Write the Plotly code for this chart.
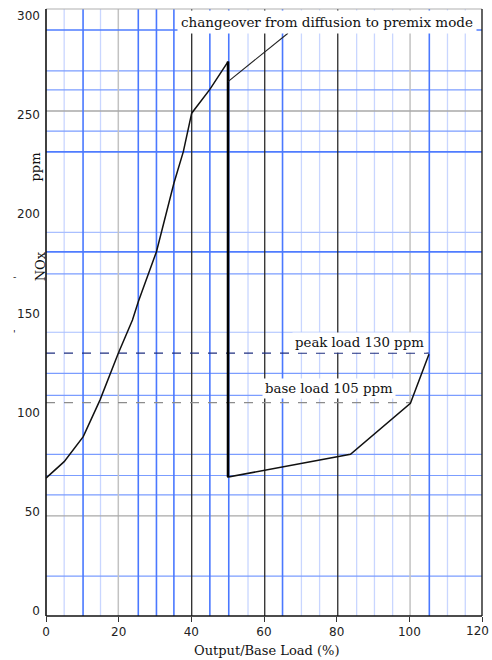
import plotly.graph_objects as go

# ---- data ----
load_pct = [0, 5.0, 10.25, 14.85, 19.9, 23.8, 25.4, 30.4, 35.2, 37.8, 40.1, 45.1, 50.1, 50.1, 83.8, 100.3, 105.4]
nox_ppm = [67.0, 75.3, 87.9, 106.3, 129.9, 146.7, 155.9, 181.1, 215.6, 231.5, 250.9, 262.9, 276.9, 67.5, 79.0, 104.7, 129.4]
changeover_x = [50.1, 66.6]
changeover_y = [266.8, 291.2]
peak_load = 130
base_load = 105
peak_end_x = 105.4
base_end_x = 100.3
x_ticks = [0, 20, 40, 60, 80, 100, 120]
y_ticks = [0, 50, 100, 150, 200, 250, 300]

# grid of the scanned chart paper
vgrid_strong = [10.2, 25.4, 30.4, 35.2, 45.1, 50.3, 65.1, 105.5]
vgrid_light = [5.0, 15.0, 55.6, 70.3, 75.3, 85.5, 90.4, 95.4, 110.5, 115.4]
vgrid_gray = [19.9, 100.2]
vgrid_black = [40.1, 60.2, 80.3]
hgrid_strong = [292.8, 231.4, 181.0]
hgrid_medium = [272.2, 262.6, 241.9, 169.9, 119.8, 108.7, 79.0, 68.3, 58.5, 17.6]
hgrid_light = [190.8, 140.5]
hgrid_gray = [252.0, 48.0]

X_RANGE = [0, 120]
Y_RANGE = [-2.5, 303.4]

shapes = []

def vline(x, color, width):
    shapes.append(dict(type="line", xref="x", yref="paper", x0=x, x1=x, y0=0, y1=1,
                       line=dict(color=color, width=width), layer="below"))

def hline(y, color, width):
    shapes.append(dict(type="line", xref="paper", yref="y", x0=0, x1=1, y0=y, y1=y,
                       line=dict(color=color, width=width), layer="below"))

for v in vgrid_light:
    vline(v, "#c9d6ff", 1.3)
for v in hgrid_light:
    hline(v, "#a9bfff", 1.2)
for v in hgrid_medium:
    hline(v, "#7b9dff", 1.2)
for v in vgrid_gray:
    vline(v, "#c2c2c2", 1.5)
for v in hgrid_gray:
    hline(v, "#a8a8a8", 1.3)
for v in hgrid_strong:
    hline(v, "#4f7cff", 1.6)
for v in vgrid_strong:
    vline(v, "#4a78ff", 1.6)
for v in vgrid_black:
    vline(v, "#2a2a2a", 1.3)

# frame
shapes.append(dict(type="line", xref="paper", yref="paper", x0=0, x1=1, y0=1, y1=1,
                   line=dict(color="#b0b0b0", width=1.2)))
shapes.append(dict(type="line", xref="paper", yref="paper", x0=1, x1=1, y0=0, y1=1,
                   line=dict(color="#222222", width=1.4)))
shapes.append(dict(type="line", xref="paper", yref="paper", x0=0, x1=0, y0=0, y1=1,
                   line=dict(color="#111111", width=1.6)))
shapes.append(dict(type="line", xref="paper", yref="paper", x0=0, x1=1, y0=0, y1=0,
                   line=dict(color="#111111", width=1.6)))

fig = go.Figure()

# reference lines
fig.add_trace(go.Scatter(x=[0, base_end_x], y=[base_load, base_load], mode="lines",
                         line=dict(color="#8c8c8c", width=1.2, dash="dash"), hoverinfo="skip"))
fig.add_trace(go.Scatter(x=[0, peak_end_x], y=[peak_load, peak_load], mode="lines",
                         line=dict(color="#1f2f80", width=1.3, dash="dash"), hoverinfo="skip"))

# main curve
fig.add_trace(go.Scatter(x=load_pct, y=nox_ppm, mode="lines",
                         line=dict(color="#111111", width=1.5)))
# vertical drop at changeover (heavier)
fig.add_trace(go.Scatter(x=load_pct[12:14], y=nox_ppm[12:14], mode="lines",
                         line=dict(color="#000000", width=2.6)))
# changeover branch
fig.add_trace(go.Scatter(x=changeover_x, y=changeover_y, mode="lines",
                         line=dict(color="#222222", width=1.1)))

serif = "DejaVu Serif"
annotations = [
    dict(text="changeover from diffusion to premix mode", x=77.3, y=296.9, xref="x", yref="y",
         showarrow=False, bgcolor="white", borderpad=3,
         font=dict(family=serif, size=13.5, color="#111")),
    dict(text="peak load 130 ppm", x=86.4, y=135.2, xref="x", yref="y",
         showarrow=False, bgcolor="white", borderpad=2,
         font=dict(family=serif, size=13.3, color="#111")),
    dict(text="base load 105 ppm", x=77.8, y=112.4, xref="x", yref="y",
         showarrow=False, bgcolor="white", borderpad=2,
         font=dict(family=serif, size=13.3, color="#111")),
    dict(text="Output/Base Load (%)", x=0.507, y=0, xref="paper", yref="paper",
         yanchor="middle", yshift=-34, showarrow=False,
         font=dict(family=serif, size=13, color="#111")),
    dict(text="ppm", x=0, y=223.8, xref="paper", yref="y", xshift=-20, textangle=-90,
         showarrow=False, font=dict(family=serif, size=13, color="#111")),
    dict(text="NOx", x=0, y=173.5, xref="paper", yref="y", xshift=-15, textangle=-90,
         showarrow=False, font=dict(family=serif, size=13, color="#111")),
    dict(text="-", x=0, y=168.5, xref="paper", yref="y", xshift=-35,
         showarrow=False, font=dict(family=serif, size=10, color="#111")),
    dict(text="'", x=0, y=140, xref="paper", yref="y", xshift=-35,
         showarrow=False, font=dict(family=serif, size=10, color="#111")),
    # last x tick label, kept inside the page edge
    dict(text=str(x_ticks[-1]), x=x_ticks[-1], y=0, xref="x", yref="paper",
         xanchor="right", xshift=9, yanchor="middle", yshift=-15, showarrow=False,
         font=dict(family="DejaVu Sans", size=12, color="#222")),
]

fig.update_layout(
    width=492, height=660,
    margin=dict(l=46, r=10, t=9, b=44, pad=0),
    paper_bgcolor="white", plot_bgcolor="white",
    showlegend=False,
    shapes=shapes,
    annotations=annotations,
    xaxis=dict(range=X_RANGE, tickvals=x_ticks, ticktext=[str(t) for t in x_ticks[:-1]] + [""],
               showgrid=False, zeroline=False, showline=False,
               ticks="outside", ticklen=5, tickcolor="#333", tickwidth=1,
               tickfont=dict(family="DejaVu Sans", size=12, color="#222")),
    yaxis=dict(range=Y_RANGE, tickvals=y_ticks, ticktext=[str(t) for t in y_ticks],
               showgrid=False, zeroline=False, showline=False,
               ticks="", ticklabelstandoff=5,
               tickfont=dict(family="DejaVu Sans", size=12, color="#222")),
)

fig.write_html("out.html")
